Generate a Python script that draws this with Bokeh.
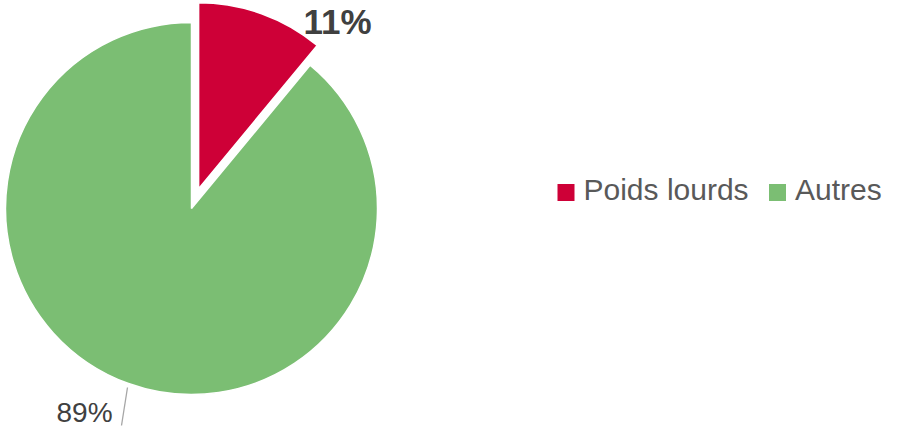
import math
from bokeh.plotting import figure
from bokeh.models import Range1d
from bokeh.core.properties import value
from bokeh.embed import file_html
from bokeh.resources import INLINE

categories = ["Poids lourds", "Autres"]
shares = [11, 89]
colors = ["#CE0037", "#7BBE73"]
pct_labels = ["11%", "89%"]

W, H = 886, 427
p = figure(width=W, height=H, output_backend="svg", toolbar_location=None,
           x_range=Range1d(0, W), y_range=Range1d(0, H), min_border=0)
p.axis.visible = False
p.grid.visible = False
p.outline_line_color = None
p.background_fill_color = "white"

cx, cy, r = 191, 219, 186
explode = [21, 0]

total = sum(shares)
start = math.pi / 2
for i, s in enumerate(shares):
    sweep = 2 * math.pi * s / total
    end = start - sweep
    mid = (start + end) / 2
    ox = cx + explode[i] * math.cos(mid)
    oy = cy + explode[i] * math.sin(mid)
    p.wedge(x=[ox], y=[oy], radius=r, start_angle=[end], end_angle=[start],
            fill_color=colors[i], line_color="white", line_width=1.5)
    start = end

# percentage labels
p.text(x=[303], y=[406], text=[pct_labels[0]], text_font=value("Liberation Sans"),
       text_font_size="35px", text_font_style="bold", text_color="#404040",
       text_baseline="alphabetic", text_align="left")
p.text(x=[56], y=[15], text=[pct_labels[1]], text_font=value("Liberation Sans"),
       text_font_size="28px", text_color="#404040",
       text_baseline="alphabetic", text_align="left")
# leader line for 89%
p.line(x=[127, 121], y=[40, 2], line_color="#A6A6A6", line_width=1.3)

# legend
leg_x = [565.5, 777]
for i, c in enumerate(categories):
    p.scatter(x=[leg_x[i]], y=[235], marker="square", size=17,
              fill_color=colors[i], line_color=None)
    p.text(x=[leg_x[i] + 17.5], y=[238], text=[c], text_font=value("Liberation Sans"),
           text_font_size="30px", text_color="#595959",
           text_baseline="alphabetic", text_align="left")

open("out.html", "w").write(file_html(p, INLINE))
